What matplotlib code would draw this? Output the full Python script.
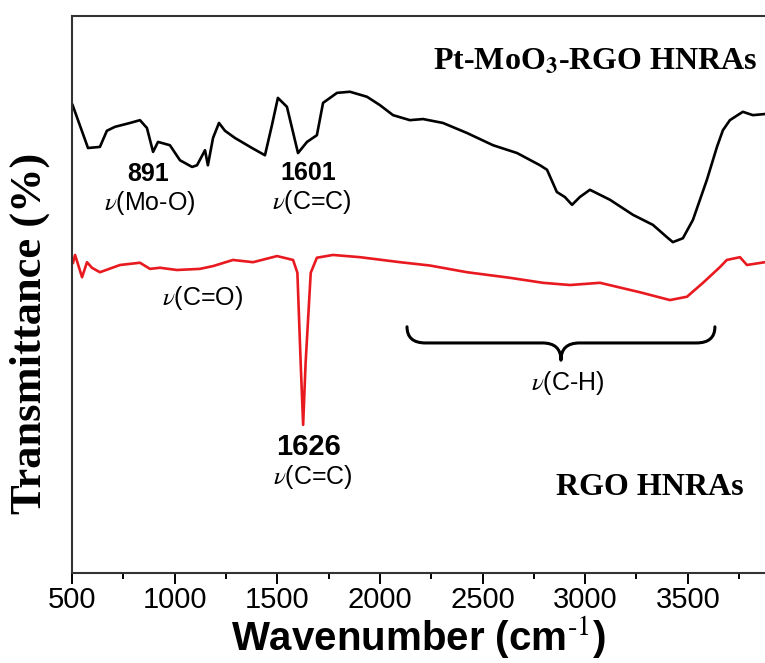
import numpy as np
import matplotlib
matplotlib.use('Agg')
import matplotlib.pyplot as plt
from matplotlib.path import Path
from matplotlib.patches import PathPatch

plt.rcParams['font.family'] = 'Liberation Sans'
plt.rcParams['mathtext.fontset'] = 'stix'

# Pt-MoO3-RGO HNRAs spectrum (wavenumber, transmittance a.u.)
pt_wn = [503, 578, 636, 670, 709, 783, 831, 865, 895, 919, 977, 1026, 1085, 1109,
         1148, 1162, 1187, 1216, 1245, 1294, 1377, 1440, 1474, 1503, 1547, 1601,
         1645, 1693, 1723, 1791, 1854, 1937, 2000, 2064, 2146, 2210, 2307, 2424,
         2551, 2668, 2780, 2814, 2862, 2901, 2936, 2974, 3023, 3121, 3233, 3330,
         3398, 3427, 3476, 3525, 3593, 3642, 3671, 3705, 3768, 3817, 3876]
pt_t = [84.0, 76.3, 76.5, 79.4, 80.1, 80.8, 81.3, 79.9, 75.6, 77.4, 76.8, 74.1, 72.9, 73.2,
        75.9, 73.2, 78.1, 80.8, 79.4, 78.1, 76.3, 75.0, 80.4, 85.3, 83.7, 75.4,
        77.4, 78.6, 84.4, 86.2, 86.4, 85.5, 84.0, 82.2, 81.3, 81.5, 80.8, 79.0,
        76.8, 75.4, 73.2, 72.4, 68.4, 67.5, 66.1, 67.5, 68.8, 67.0, 64.3, 62.5,
        60.3, 59.4, 60.1, 63.4, 70.6, 76.5, 79.5, 81.3, 82.8, 82.2, 82.4]

# RGO HNRAs spectrum
rgo_wn = [505, 515, 549, 573, 597, 636, 734, 831, 880, 929, 1011, 1123, 1187, 1284,
          1382, 1499, 1577, 1598, 1614, 1626, 1638, 1663, 1693, 1771, 1903, 2098,
          2244, 2424, 2633, 2794, 2926, 3072, 3267, 3413, 3496, 3574, 3656, 3690,
          3754, 3788, 3876]
rgo_t = [55.7, 57.1, 53.1, 55.8, 54.8, 54.0, 55.3, 55.7, 54.6, 54.8, 54.4, 54.6, 55.1, 56.2,
         55.8, 56.9, 56.2, 53.9, 37.7, 26.6, 37.7, 53.9, 56.6, 57.1, 56.7, 55.8,
         55.2, 54.0, 53.0, 52.1, 51.7, 52.1, 50.4, 49.0, 49.6, 52.1, 54.9, 56.2,
         56.7, 55.3, 55.8]

xticks = [500, 1000, 1500, 2000, 2500, 3000, 3500]


def brace(ax, x0, x1, ytop, ymid, ytip, r):
    xc = (x0 + x1) / 2.0
    verts = [(x0, ytop), (x0, ymid), (x0 + r, ymid),
             (xc - r, ymid), (xc, ymid), (xc, ytip),
             (xc, ymid), (xc + r, ymid),
             (x1 - r, ymid), (x1, ymid), (x1, ytop)]
    codes = [Path.MOVETO, Path.CURVE3, Path.CURVE3,
             Path.LINETO, Path.CURVE3, Path.CURVE3,
             Path.CURVE3, Path.CURVE3,
             Path.LINETO, Path.CURVE3, Path.CURVE3]
    ax.add_patch(PathPatch(Path(verts, codes), fill=False, lw=2.2, color='black',
                           capstyle='round', joinstyle='round'))


fig = plt.figure(figsize=(7.65, 6.63), dpi=100)
ax = fig.add_axes([72 / 765, 90 / 663, 693 / 765, 557 / 663])

ax.plot(pt_wn, pt_t, color='black', lw=1.9)
ax.plot(rgo_wn, rgo_t, color='#e8191f', lw=1.9)

ax.set_xlim(500, 3876)
ax.set_ylim(0, 100)
ax.set_xticks(xticks)
ax.set_xticks(np.arange(750, 3876, 500), minor=True)
ax.set_yticks([])
ax.tick_params(axis='x', which='major', direction='out', length=8, width=1.4,
               labelsize=21, pad=1)
ax.tick_params(axis='x', which='minor', direction='out', length=4, width=1.4)
ax.spines['right'].set_visible(False)
for s in ['left', 'bottom', 'top']:
    ax.spines[s].set_linewidth(1.5)
    ax.spines[s].set_color('#333333')

ax.set_xlabel('Wavenumber (cm$^{\\text{-1}}$)', fontsize=29, fontweight='bold', labelpad=0)
fig.text(30 / 765, 1 - 333 / 663, 'Transmittance (%)', rotation=90, ha='center', va='center',
         fontsize=32, fontweight='bold', family='Liberation Serif')

# annotations
ax.text(870, 71.6, '891', ha='center', va='center', fontsize=18, fontweight='bold')
ax.text(880, 66.4, r'$\nu$(Mo-O)', ha='center', va='center', fontsize=18)
ax.text(1650, 71.8, '1601', ha='center', va='center', fontsize=18, fontweight='bold')
ax.text(1669, 66.6, r'$\nu$(C=C)', ha='center', va='center', fontsize=18)
ax.text(1138, 49.4, r'$\nu$(C=O)', ha='center', va='center', fontsize=18)
ax.text(1650, 22.6, '1626', ha='center', va='center', fontsize=21, fontweight='bold')
ax.text(1674, 17.2, r'$\nu$(C=C)', ha='center', va='center', fontsize=18)
ax.text(2916, 34.1, r'$\nu$(C-H)', ha='center', va='center', fontsize=18)

ax.text(3048, 91.7, r'Pt-MoO$_\mathbf{3}$-RGO HNRAs', ha='center', va='center', fontsize=23,
        fontweight='bold', family='Liberation Serif')
ax.text(3315, 15.3, 'RGO HNRAs', ha='center', va='center', fontsize=23,
        fontweight='bold', family='Liberation Serif')

brace(ax, 2132, 3632, 44.2, 41.3, 38.2, 90)

fig.savefig('out.png', dpi=100)
